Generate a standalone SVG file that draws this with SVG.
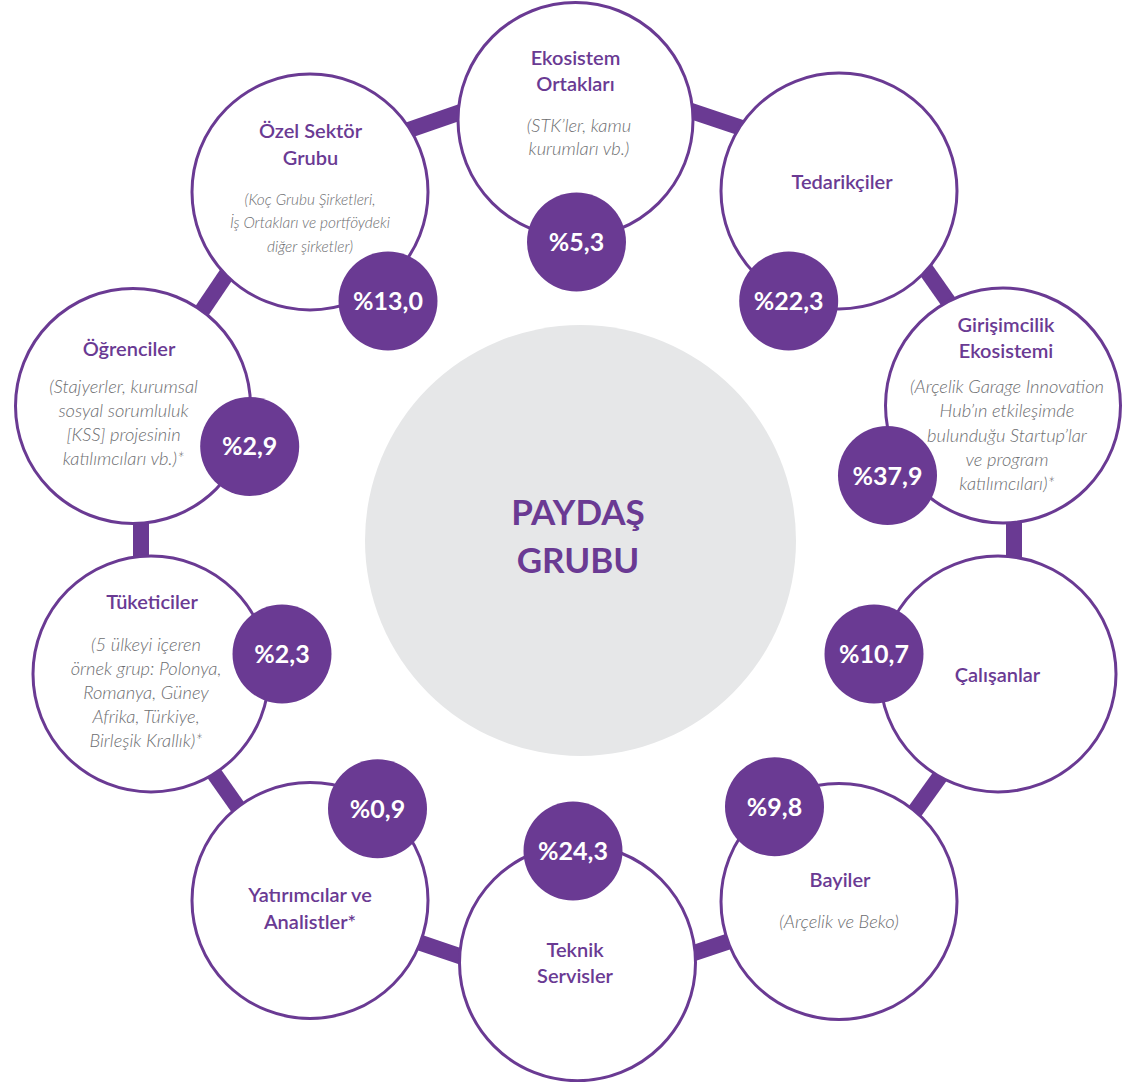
<svg xmlns="http://www.w3.org/2000/svg" width="1127" height="1082" viewBox="0 0 1127 1082">
<style>
.ring{fill:#ffffff;stroke:#6a3a93;stroke-width:3}
.badge{fill:#6a3a93}
.conn{stroke:#6a3a93;stroke-width:16;fill:none}
.t{font-family:Lato,"Noto Sans",sans-serif;font-weight:600;font-size:20px;fill:#6a3a93;text-anchor:middle}
.s{font-family:Lato,"Noto Sans",sans-serif;font-weight:300;font-style:italic;font-size:18.3px;fill:#6d6e71;text-anchor:middle}
.s2{font-size:15.4px}
.b{font-family:Lato,"Noto Sans",sans-serif;font-weight:700;font-size:25px;fill:#ffffff;text-anchor:middle}
.c{font-family:Lato,"Noto Sans",sans-serif;font-weight:700;font-size:35px;fill:#6a3a93;text-anchor:middle}
</style>
<rect width="1127" height="1082" fill="#ffffff"/>
<g id="connectors">
<line class="conn" x1="384.7" y1="138.4" x2="479.3" y2="105.6"/>
<line class="conn" x1="670.6" y1="104.1" x2="765.4" y2="135.9"/>
<line class="conn" x1="909.2" y1="246" x2="966.8" y2="328"/>
<line class="conn" x1="1014" y1="490" x2="1014" y2="590"/>
<line class="conn" x1="957.2" y1="752.4" x2="898.9" y2="833.6"/>
<line class="conn" x1="664.5" y1="962.8" x2="759.5" y2="931.2"/>
<line class="conn" x1="391.1" y1="932.9" x2="485.9" y2="965"/>
<line class="conn" x1="196.2" y1="748.1" x2="253.8" y2="829.9"/>
<line class="conn" x1="141" y1="490" x2="141" y2="590"/>
<line class="conn" x1="184.9" y1="335.9" x2="241" y2="253"/>
</g>
<g id="center">
<circle cx="580.5" cy="540.5" r="215.5" fill="#e6e7e8"/>
<text class="c" x="578" y="525">PAYDAŞ</text>
<text class="c" x="578" y="573">GRUBU</text>
</g>
<g id="ekosistem">
<circle class="ring" cx="575.5" cy="120" r="117.5"/>
<circle class="badge" cx="576.5" cy="242" r="49.5"/>
<text class="t" x="575.5" y="65">Ekosistem</text>
<text class="t" x="575.5" y="91">Ortakları</text>
<text class="s" x="579" y="132">(STK’ler, kamu</text>
<text class="s" x="579" y="155">kurumları vb.)</text>
<text class="b" x="576.5" y="251">%5,3</text>
</g>
<g id="tedarikciler">
<circle class="ring" cx="839" cy="191" r="118"/>
<circle class="badge" cx="788.7" cy="301" r="49.5"/>
<text class="t" x="842" y="189">Tedarikçiler</text>
<text class="b" x="788.7" y="310">%22,3</text>
</g>
<g id="girisimcilik">
<circle class="ring" cx="1003" cy="405.5" r="117.5"/>
<circle class="badge" cx="887.5" cy="475.5" r="49.5"/>
<text class="t" x="1006" y="332">Girişimcilik</text>
<text class="t" x="1006" y="358">Ekosistemi</text>
<text class="s" x="1007" y="393">(Arçelik Garage Innovation</text>
<text class="s" x="1007" y="417">Hub’ın etkileşimde</text>
<text class="s" x="1007" y="442">bulunduğu Startup’lar</text>
<text class="s" x="1007" y="466">ve program</text>
<text class="s" x="1007" y="490">katılımcıları)*</text>
<text class="b" x="887.5" y="484.5">%37,9</text>
</g>
<g id="calisanlar">
<circle class="ring" cx="998" cy="674" r="118"/>
<circle class="badge" cx="874" cy="654" r="49.5"/>
<text class="t" x="997.5" y="682">Çalışanlar</text>
<text class="b" x="874" y="663">%10,7</text>
</g>
<g id="bayiler">
<circle class="ring" cx="839" cy="901.5" r="118"/>
<circle class="badge" cx="774.5" cy="806.7" r="49.5"/>
<text class="t" x="840" y="887">Bayiler</text>
<text class="s" x="839" y="928">(Arçelik ve Beko)</text>
<text class="b" x="774.5" y="815.7">%9,8</text>
</g>
<g id="teknik">
<circle class="ring" cx="577.5" cy="962.7" r="118"/>
<circle class="badge" cx="573" cy="851" r="49.5"/>
<text class="t" x="575" y="957">Teknik</text>
<text class="t" x="575" y="983">Servisler</text>
<text class="b" x="573" y="860">%24,3</text>
</g>
<g id="yatirimcilar">
<circle class="ring" cx="310" cy="900.5" r="118"/>
<circle class="badge" cx="377.5" cy="808.7" r="49.5"/>
<text class="t" x="310" y="902">Yatırımcılar ve</text>
<text class="t" x="310" y="929">Analistler*</text>
<text class="b" x="377.5" y="817.7">%0,9</text>
</g>
<g id="tuketiciler">
<circle class="ring" cx="151" cy="674" r="118"/>
<circle class="badge" cx="282" cy="654" r="49.5"/>
<text class="t" x="152" y="609">Tüketiciler</text>
<text class="s" x="146" y="651">(5 ülkeyi içeren</text>
<text class="s" x="146" y="675">örnek grup: Polonya,</text>
<text class="s" x="146" y="699">Romanya, Güney</text>
<text class="s" x="146" y="723">Afrika, Türkiye,</text>
<text class="s" x="146" y="747">Birleşik Krallık)*</text>
<text class="b" x="282" y="663">%2,3</text>
</g>
<g id="ogrenciler">
<circle class="ring" cx="133" cy="406" r="117.5"/>
<circle class="badge" cx="249.7" cy="446.4" r="49.5"/>
<text class="t" x="129" y="356">Öğrenciler</text>
<text class="s" x="123.5" y="393">(Stajyerler, kurumsal</text>
<text class="s" x="123.5" y="417">sosyal sorumluluk</text>
<text class="s" x="123.5" y="441">[KSS] projesinin</text>
<text class="s" x="123.5" y="465">katılımcıları vb.)*</text>
<text class="b" x="249.7" y="455.4">%2,9</text>
</g>
<g id="ozel">
<circle class="ring" cx="310" cy="192" r="118"/>
<circle class="badge" cx="388" cy="301" r="49.5"/>
<text class="t" x="310.5" y="138">Özel Sektör</text>
<text class="t" x="310.5" y="165">Grubu</text>
<text class="s s2" x="310" y="205">(Koç Grubu Şirketleri,</text>
<text class="s s2" x="310" y="228">İş Ortakları ve portföydeki</text>
<text class="s s2" x="310" y="252">diğer şirketler)</text>
<text class="b" x="388" y="310">%13,0</text>
</g>
</svg>
